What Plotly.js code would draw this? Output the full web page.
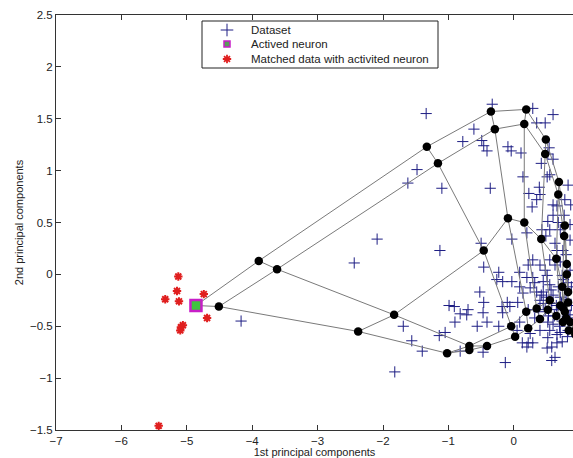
<!DOCTYPE html>
<html>
<head>
<meta charset="utf-8">
<script src="https://cdn.plot.ly/plotly-3.0.1.min.js"></script>
<style>html,body{margin:0;padding:0;background:#fff;}#chart{width:573px;height:458px;}</style>
</head>
<body>
<div id="chart"></div>
<script>
// Dataset (projected onto the 1st / 2nd principal components)
const dataX = [-4.17,-2.44,-2.09,-1.62,-1.48,-1.34,-1.10,-1.13,-1.82,-1.69,-1.56,-1.40,
  -0.33,0.29,0.60,0.35,0.48,-0.61,-0.78,-0.49,-0.46,-0.41,-0.09,-0.04,0.11,0.54,0.60,0.42,0.51,0.55,0.14,-0.36,
  0.23,0.39,0.40,0.35,0.28,0.60,0.66,0.87,0.60,0.77,0.52,0.68,0.43,0.55,0.20,0.49,-0.03,0.63,0.66,0.75,-0.50,
  -0.46,-0.23,0.09,0.29,0.22,0.40,0.55,0.63,0.29,0.51,-0.26,-0.17,-0.03,0.20,0.32,0.45,0.09,0.25,0.35,0.45,
  -0.52,-0.46,-0.70,-0.10,0.06,0.14,-0.18,-0.06,-0.17,-0.47,-0.72,-0.99,-0.91,-0.82,-0.90,-0.56,-0.41,-0.23,
  -1.05,-1.14,-0.82,-0.47,-0.13,0.13,0.22,0.29,0.20,0.51,0.58,0.66,0.58,0.63,0.74,0.05,0.09,0.25,0.40,0.55,
  0.71,0.83,0.66,0.52,0.71,0.55,0.78,0.65,0.48,0.86,0.74,0.32,0.52,0.22,0.40,0.60,0.86,0.74,0.83,0.48,0.71,
  0.86,0.80,0.71,0.86,0.78,0.83,0.52,
  0.42,0.58,0.68,0.80,0.88,0.62,0.45,0.70,0.84,0.57,0.76,0.50,0.66,0.82,0.60,0.38,0.73,0.88,0.53,0.79];
const dataY = [-0.45,0.11,0.34,0.88,1.01,1.55,0.83,0.23,-0.94,-0.50,-0.64,-0.74,
  1.64,1.60,1.54,1.46,1.46,1.40,1.28,1.29,1.24,1.19,1.23,1.19,1.17,1.22,1.11,1.07,0.94,0.96,0.94,0.83,
  0.78,0.84,0.77,0.72,0.65,0.67,0.66,0.67,0.57,0.57,0.51,0.50,0.43,0.43,0.40,0.37,0.34,0.30,0.23,0.23,0.30,
  0.07,0.02,0.02,0.14,0.09,0.09,0.14,0.09,-0.03,-0.01,-0.05,-0.07,-0.07,-0.03,-0.08,-0.07,-0.12,-0.13,-0.17,-0.17,
  -0.17,-0.27,-0.34,-0.27,-0.27,-0.18,-0.31,-0.31,-0.37,-0.37,-0.39,-0.30,-0.31,-0.38,-0.46,-0.50,-0.46,-0.50,
  -0.56,-0.59,-0.74,-0.75,-0.85,-0.66,-0.66,-0.66,-0.70,-0.71,-0.70,-0.66,-0.83,-0.80,-0.65,-0.54,-0.46,-0.57,-0.54,-0.54,
  -0.56,-0.54,-0.58,-0.61,-0.22,-0.10,-0.15,-0.30,-0.34,-0.39,-0.45,-0.42,-0.46,-0.34,-0.25,-0.20,0.04,-0.01,-0.08,0.04,0.12,
  0.33,0.19,0.43,0.48,0.72,0.86,1.16,
  -0.20,-0.28,-0.12,-0.24,-0.30,-0.40,-0.28,-0.50,-0.42,-0.15,-0.05,-0.22,-0.34,-0.60,-0.48,-0.36,-0.28,-0.12,-0.40,-0.35];

// SOM neuron lattice (5 rows x 10 columns)
const gridX = [
  [-4.86,-3.90,-1.33,-0.35,0.19,0.49,0.69,0.78,0.81,0.83],
  [-4.51,-3.62,-1.16,-0.29,0.16,0.48,0.68,0.77,0.81,0.83],
  [-2.38,-1.83,-0.46,-0.09,0.16,0.42,0.65,0.74,0.75,0.80],
  [-1.02,-0.68,-0.04,0.19,0.35,0.55,0.71,0.78,0.86,0.94],
  [-0.68,-0.41,0.02,0.22,0.40,0.52,0.65,0.75,0.84,0.94]
];
const gridY = [
  [-0.30,0.13,1.23,1.57,1.59,1.30,0.89,0.47,0.10,-0.17],
  [-0.31,0.05,1.07,1.40,1.45,1.16,0.77,0.37,0.00,-0.27],
  [-0.55,-0.39,0.23,0.54,0.50,0.34,0.15,-0.12,-0.32,-0.42],
  [-0.76,-0.69,-0.50,-0.36,-0.33,-0.25,-0.30,-0.36,-0.46,-0.54],
  [-0.73,-0.69,-0.60,-0.52,-0.43,-0.34,-0.40,-0.46,-0.54,-0.58]
];

// Activated neuron and the data matched with it
const activeX = [-4.86];
const activeY = [-0.30];
const matchedX = [-5.13,-5.15,-5.33,-5.12,-4.74,-4.69,-5.09,-5.06,-5.10,-5.43];
const matchedY = [-0.02,-0.16,-0.24,-0.26,-0.19,-0.42,-0.51,-0.49,-0.54,-1.46];

const xTicks = [-7,-6,-5,-4,-3,-2,-1,0];
const yTicks = [-1.5,-1,-0.5,0,0.5,1,1.5,2,2.5];
const legendLabels = ['Dataset', 'Actived neuron', 'Matched data with activited neuron'];

// style
const FONT = 'Liberation Sans, Arial, sans-serif';
const C_DATA = '#1e1e84', C_LINE = '#7a7a7a', C_RED = '#e01f1f';
const SQ_FILL = '#3ec43e', SQ_EDGE = '#c81ec8';

// build lattice connections (rows then columns)
const lx = [], ly = [];
const R = gridX.length, C = gridX[0].length;
for (let r = 0; r < R; r++) {
  for (let c = 0; c < C; c++) { lx.push(gridX[r][c]); ly.push(gridY[r][c]); }
  lx.push(null); ly.push(null);
}
for (let c = 0; c < C; c++) {
  for (let r = 0; r < R; r++) { lx.push(gridX[r][c]); ly.push(gridY[r][c]); }
  lx.push(null); ly.push(null);
}
const nx = [].concat(...gridX), ny = [].concat(...gridY);

// legend box geometry in pixel units (overlay axis x2/y2 mapped to pixels)
const PL = 56, PR = 573, PT = 15, PB = 430;
const LG = {x0: 202, x1: 438, y0: 21, y1: 68, symX: 227, textX: 249, rows: [30, 44, 59]};

const traces = [
  {x: dataX, y: dataY, mode: 'markers', type: 'scatter', showlegend: false,
   marker: {symbol: 'cross-thin-open', size: 8, line: {width: 1, color: C_DATA}, color: C_DATA}},
  {x: lx, y: ly, mode: 'lines', type: 'scatter', showlegend: false,
   line: {color: C_LINE, width: 1}},
  {x: nx, y: ny, mode: 'markers', type: 'scatter', showlegend: false,
   marker: {symbol: 'circle', size: 8.5, color: '#000'}},
  {x: activeX, y: activeY, mode: 'markers', type: 'scatter', showlegend: false,
   marker: {symbol: 'square', size: 11, color: SQ_FILL, line: {color: SQ_EDGE, width: 2.5}}},
  {x: matchedX, y: matchedY, mode: 'markers', type: 'scatter', showlegend: false,
   marker: {symbol: 'asterisk-open', size: 7, line: {width: 2, color: C_RED}, color: C_RED}},
  // legend symbols
  {x: [LG.symX], y: [LG.rows[0]], xaxis: 'x2', yaxis: 'y2', mode: 'markers', type: 'scatter', showlegend: false,
   marker: {symbol: 'cross-thin-open', size: 9, color: C_DATA, line: {width: 1, color: C_DATA}}},
  {x: [LG.symX], y: [LG.rows[1]], xaxis: 'x2', yaxis: 'y2', mode: 'markers', type: 'scatter', showlegend: false,
   marker: {symbol: 'square', size: 6, color: '#5a9a5a', line: {color: SQ_EDGE, width: 1.5}}},
  {x: [LG.symX], y: [LG.rows[2]], xaxis: 'x2', yaxis: 'y2', mode: 'markers', type: 'scatter', showlegend: false,
   marker: {symbol: 'asterisk-open', size: 7, color: C_RED, line: {width: 1.8, color: C_RED}}}
];

const annotations = legendLabels.map((t, i) => ({
  xref: 'x2', yref: 'y2', x: LG.textX, y: LG.rows[i], text: t, showarrow: false,
  xanchor: 'left', yanchor: 'middle', font: {family: FONT, size: 11.5, color: '#222'}
}));

const layout = {
  width: 573, height: 458,
  margin: {l: PL, r: 573 - PR, t: PT, b: 458 - PB},
  paper_bgcolor: '#fff', plot_bgcolor: '#fff',
  font: {family: FONT, size: 11, color: '#222'},
  showlegend: false,
  xaxis: {range: [-7, 0.905], tickvals: xTicks, ticks: 'inside', ticklen: 5, tickcolor: '#333',
    showline: true, linecolor: '#333', linewidth: 1, mirror: 'ticks', showgrid: false, zeroline: false,
    tickfont: {family: FONT, size: 11.5, color: '#222'},
    title: {text: '1st principal components', font: {family: FONT, size: 11, color: '#222'}, standoff: 3},
    automargin: false},
  yaxis: {range: [-1.5, 2.5], tickvals: yTicks, ticks: 'inside', ticklen: 5, tickcolor: '#333',
    showline: true, linecolor: '#333', linewidth: 1, mirror: false, showgrid: false, zeroline: false,
    tickfont: {family: FONT, size: 11.5, color: '#222'},
    title: {text: '2nd principal components', font: {family: FONT, size: 11, color: '#222'}, standoff: 4},
    automargin: false},
  xaxis2: {overlaying: 'x', range: [PL, PR], visible: false, fixedrange: true},
  yaxis2: {overlaying: 'y', range: [PB, PT], visible: false, fixedrange: true},
  shapes: [{type: 'rect', xref: 'x2', yref: 'y2', x0: LG.x0, x1: LG.x1, y0: LG.y0, y1: LG.y1,
    line: {color: '#222', width: 1}, fillcolor: '#fff', layer: 'below'}],
  annotations: annotations
};

Plotly.newPlot('chart', traces, layout, {displayModeBar: false, staticPlot: true});
</script>
</body>
</html>
